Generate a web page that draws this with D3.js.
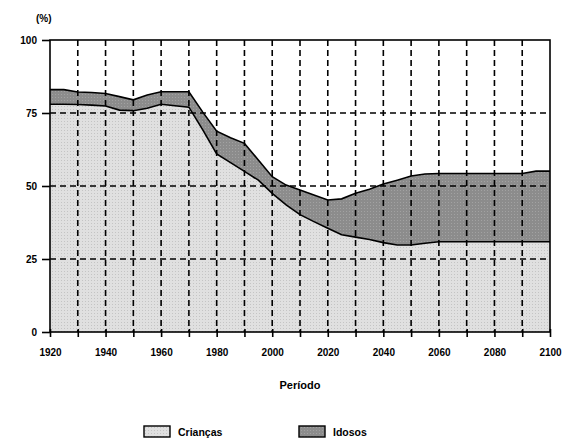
<!DOCTYPE html>
<html><head><meta charset="utf-8">
<script src="https://cdn.jsdelivr.net/npm/d3@7"></script>
<style>
body{margin:0;background:#fff;}
text{font-family:"Liberation Sans",Arial,sans-serif;font-weight:bold;fill:#000;}
</style></head>
<body><svg id="c" width="580" height="439"></svg>
<script>
const years = [1920,1925,1930,1935,1940,1945,1950,1955,1960,1965,1970,1975,1980,1985,1990,1995,2000,2005,2010,2015,2020,2025,2030,2035,2040,2045,2050,2055,2060,2065,2070,2075,2080,2085,2090,2095,2100];
const criancas = [78.0,78.0,77.9,77.7,77.4,76.0,75.8,76.6,78.0,77.5,77.0,69.2,61.0,58.0,55.0,52.0,47.5,43.5,40.2,37.8,35.5,33.3,32.5,31.7,30.6,29.8,29.8,30.4,30.9,30.9,30.9,30.9,30.9,30.9,30.9,30.9,30.9];
const idosos = [5.0,5.0,4.3,4.3,4.3,4.6,3.7,4.6,4.3,4.8,5.3,6.1,7.8,8.5,9.6,6.9,5.7,6.8,8.4,9.1,9.7,12.3,15.0,17.2,20.1,22.2,23.6,23.7,23.4,23.4,23.4,23.4,23.4,23.4,23.4,24.2,24.2];
const seriesNames = ["Crianças","Idosos"];
const xTickLabels = [1920,1940,1960,1980,2000,2020,2040,2060,2080,2100];
const xGridYears = d3.range(1920, 2101, 10);
const yTicks = [0,25,50,75,100];

const svg = d3.select("#c");
const m = {l:50, r:550, t:40, b:332};
const x = d3.scaleLinear().domain([1920,2100]).range([m.l,m.r]);
const y = d3.scaleLinear().domain([0,100]).range([m.b,m.t]);

const defs = svg.append("defs");
function pat(id, base, dot){
  const p = defs.append("pattern").attr("id",id).attr("width",3).attr("height",3).attr("patternUnits","userSpaceOnUse");
  p.append("rect").attr("width",3).attr("height",3).attr("fill",base);
  p.append("rect").attr("x",1).attr("y",1).attr("width",1).attr("height",1).attr("fill",dot);
}
pat("pC","#e0e0e0","#c4c4c4");
pat("pI","#8c8c8c","#a2a2a2");

const data = years.map((yr,i)=>({year:yr, Crianças:criancas[i], Idosos:idosos[i]}));
const stack = d3.stack().keys(seriesNames)(data);
const fills = ["url(#pC)","url(#pI)"];
const area = d3.area().x(d=>x(d.data.year)).y0(d=>y(d[0])).y1(d=>y(d[1]));
const line = d3.line().x(d=>x(d.data.year)).y(d=>y(d[1]));

svg.selectAll("path.area").data(stack).join("path").attr("class","area")
  .attr("d",area).attr("fill",(d,i)=>fills[i]);
svg.selectAll("path.edge").data(stack).join("path").attr("class","edge")
  .attr("d",line).attr("fill","none").attr("stroke","#000").attr("stroke-width",1.6);

// grid
const g = svg.append("g").attr("stroke","#000").attr("stroke-width",1.6).attr("stroke-dasharray","6,4");
g.selectAll("line.v").data(xGridYears.slice(1,-1)).join("line").attr("class","v")
  .attr("x1",d=>x(d)).attr("x2",d=>x(d)).attr("y1",m.t).attr("y2",m.b);
g.selectAll("line.h").data(yTicks.slice(1,-1)).join("line").attr("class","h")
  .attr("x1",m.l).attr("x2",m.r).attr("y1",d=>y(d)).attr("y2",d=>y(d));

// frame
svg.append("rect").attr("x",m.l).attr("y",m.t).attr("width",m.r-m.l).attr("height",m.b-m.t)
  .attr("fill","none").attr("stroke","#000").attr("stroke-width",1.6);

// axes
const xAxis = d3.axisBottom(x).tickValues(xGridYears).tickSize(8).tickFormat(d=>xTickLabels.includes(d)?d:"");
const ax = svg.append("g").attr("transform",`translate(0,${m.b-3})`).call(xAxis);
ax.select(".domain").remove();
ax.selectAll("line").attr("stroke","#000").attr("stroke-width",1.6);
ax.selectAll("text").attr("font-size",10).attr("dy","1.6em").style("font-family","Liberation Sans, Arial").style("font-weight","bold");

const yAxis = d3.axisLeft(y).tickValues(yTicks).tickSize(8).tickPadding(5);
const ay = svg.append("g").attr("transform",`translate(${m.l},0)`).call(yAxis);
ay.select(".domain").remove();
ay.selectAll("line").attr("stroke","#000").attr("stroke-width",1.6);
ay.selectAll("text").attr("font-size",10).style("font-family","Liberation Sans, Arial").style("font-weight","bold");

svg.append("text").attr("x",36).attr("y",22).attr("font-size",10).text("(%)");
svg.append("text").attr("x",300).attr("y",389).attr("text-anchor","middle").attr("font-size",11).text("Período");

// legend
const leg = [{n:seriesNames[0],x:144,f:fills[0]},{n:seriesNames[1],x:299,f:fills[1]}];
const lg = svg.selectAll("g.leg").data(leg).join("g").attr("class","leg");
lg.append("rect").attr("x",d=>d.x).attr("y",426).attr("width",26).attr("height",11)
  .attr("fill",d=>d.f).attr("stroke","#000").attr("stroke-width",1.4);
lg.append("text").attr("x",d=>d.x+34).attr("y",436).attr("font-size",10.5).text(d=>d.n);
</script></body></html>
